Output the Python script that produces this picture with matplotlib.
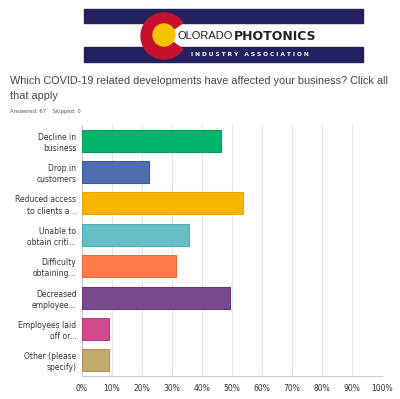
import matplotlib.pyplot as plt
from matplotlib.patches import Rectangle, Circle, Wedge

# survey data
categories = ['Decline in\nbusiness', 'Drop in\ncustomers', 'Reduced access\nto clients a...',
              'Unable to\nobtain criti...', 'Difficulty\nobtaining...', 'Decreased\nemployee...',
              'Employees laid\noff or...', 'Other (please\nspecify)']
percents = [46.3, 22.4, 53.7, 35.8, 31.3, 49.3, 9.0, 9.0]
colors = ['#00b46c', '#4f6db3', '#f8b500', '#67bec6', '#ff7b48', '#7b4a8c', '#d14c8e', '#c3aa6e']
edges = ['#0d9a5e', '#3d579a', '#e8a800', '#55aab3', '#f0693a', '#65397a', '#b83a78', '#ad945a']
ticks = [0, 10, 20, 30, 40, 50, 60, 70, 80, 90, 100]

fig = plt.figure(figsize=(4, 3.99), dpi=100)

# logo / header in pixel coordinates
hdr = fig.add_axes([0, 0, 1, 1])
hdr.set_xlim(0, 400)
hdr.set_ylim(399, 0)
hdr.axis('off')
navy = '#22215e'
hdr.add_patch(Rectangle((84, 9), 279, 14, color=navy))
hdr.add_patch(Rectangle((84, 47), 279, 15, color=navy))
hdr.add_patch(Wedge((164, 36), 23, 35, 325, width=13, color='#c8102e'))
hdr.add_patch(Circle((164, 35), 11, color='#f6c300'))
hdr.text(177, 36, 'OLORADO', fontsize=8.0, color='#222222', va='center', ha='left',
         family='Liberation Sans')
hdr.text(234, 36, 'PHOTONICS', fontsize=9, color='#222222', va='center', ha='left',
         fontweight='bold')
hdr.text(250, 55, 'I N D U S T R Y   A S S O C I A T I O N', fontsize=4.2, color='white',
         va='center', ha='center', fontweight='bold')

hdr.text(10, 81, 'Which COVID-19 related developments have affected your business? Click all',
         fontsize=7.85, color='#444444', va='center', ha='left', family='Liberation Sans')
hdr.text(10, 96, 'that apply', fontsize=7.85, color='#444444', va='center', ha='left',
         family='Liberation Sans')
hdr.text(10, 111, 'Answered: 67    Skipped: 0', fontsize=3.8, color='#555555', va='center', ha='left')

# bar chart
ax = fig.add_axes([82 / 400, 1 - 376 / 399, 300 / 400, 251 / 399])
y = list(range(len(categories)))
ax.barh(y, percents, height=0.7, color=colors, edgecolor=edges, linewidth=0.8, zorder=3)
ax.set_xlim(0, 100)
ax.set_ylim(7.5, -0.5)
ax.set_xticks(ticks)
ax.set_xticklabels([f'{t}%' for t in ticks], fontsize=5.5, color='#333333')
ax.set_yticks(y)
ax.set_yticklabels(categories, fontsize=5.5, color='#333333', linespacing=1.3)
ax.tick_params(length=0, pad=4)
ax.tick_params(axis='x', pad=6)
ax.grid(axis='x', color='#e6e6e6', linewidth=0.8, zorder=0)
for s in ['top', 'right']:
    ax.spines[s].set_visible(False)
ax.spines['left'].set_color('#cccccc')
ax.spines['bottom'].set_color('#cccccc')

fig.savefig('out.png', dpi=100)
